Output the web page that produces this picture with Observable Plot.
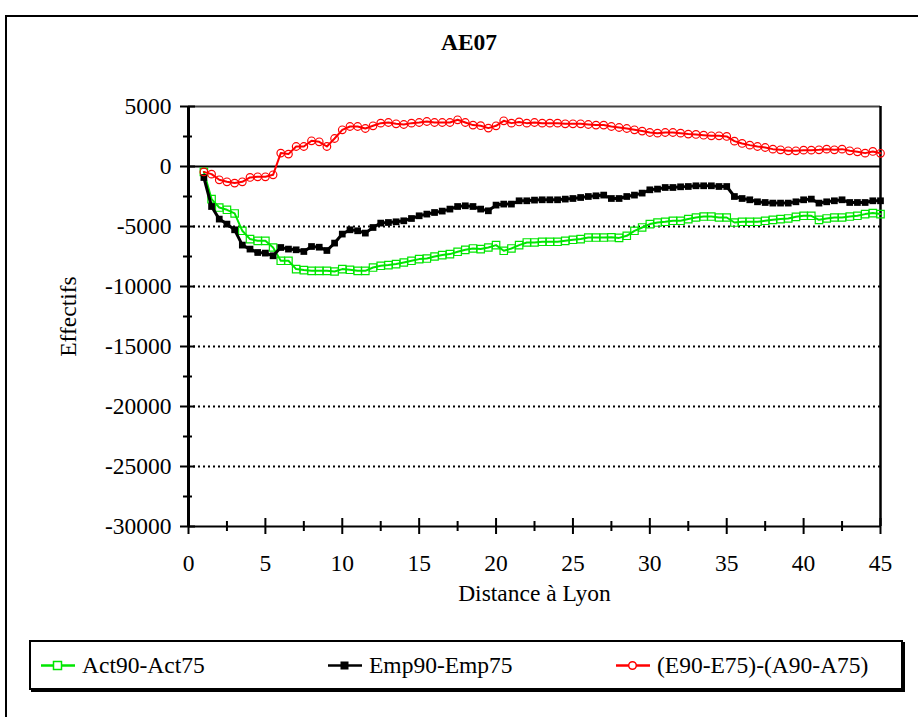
<!DOCTYPE html>
<html>
<head>
<meta charset="utf-8">
<script src="https://cdn.jsdelivr.net/npm/d3@7"></script>
<script src="https://cdn.jsdelivr.net/npm/@observablehq/plot@0.6"></script>
<style>
  body { margin: 0; background: white; }
  #page { position: relative; width: 918px; height: 717px; overflow: hidden; background: white; font-family: "Liberation Serif", "Times New Roman", serif; color: black; }
  #frame { position: absolute; left: 5px; top: 15px; width: 924px; height: 720px; border: 2px solid black; }
  #title { position: absolute; left: 6px; width: 926px; top: 30px; text-align: center; font-weight: bold; font-size: 23.5px; line-height: 24px; }
  #chart { position: absolute; left: 0; top: 0; }
  #legend { position: absolute; left: 29px; top: 640px; width: 870px; height: 46px; border: 2px solid black; box-shadow: 2px 2px 0 #000; background: white; }
  .item { position: absolute; top: 0; height: 46px; display: flex; align-items: center; font-size: 23.5px; }
  .item svg { margin-right: 7px; }
</style>
</head>
<body>
<div id="page">
  <div id="frame"></div>
  <div id="title">AE07</div>
  <div id="chart"></div>
  <div id="legend"></div>
</div>
<script>
// Distance à Lyon (km)
const distance = [1,1.5,2,2.5,3,3.5,4,4.5,5,5.5,6,6.5,7,7.5,8,8.5,9,9.5,10,10.5,
  11,11.5,12,12.5,13,13.5,14,14.5,15,15.5,16,16.5,17,17.5,18,18.5,19,19.5,20,20.5,
  21,21.5,22,22.5,23,23.5,24,24.5,25,25.5,26,26.5,27,27.5,28,28.5,29,29.5,30,30.5,
  31,31.5,32,32.5,33,33.5,34,34.5,35,35.5,36,36.5,37,37.5,38,38.5,39,39.5,40,40.5,
  41,41.5,42,42.5,43,43.5,44,44.5,45];

// Act90-Act75
const act = [-450,-2717,-3417,-3608,-3914,-5358,-6050,-6192,-6192,-6750,
  -7858,-7858,-8550,-8633,-8692,-8692,-8692,-8750,-8550,-8608,
  -8692,-8692,-8417,-8275,-8217,-8133,-8000,-7858,-7717,-7667,
  -7500,-7383,-7300,-7108,-6942,-6833,-6883,-6750,-6550,-7025,
  -6833,-6550,-6333,-6333,-6275,-6275,-6275,-6192,-6108,-6050,
  -5917,-5917,-5917,-5900,-5950,-5775,-5358,-5083,-4800,-4667,
  -4608,-4525,-4525,-4383,-4250,-4167,-4167,-4250,-4250,-4667,
  -4608,-4608,-4608,-4525,-4442,-4383,-4333,-4192,-4108,-4108,
  -4442,-4333,-4250,-4250,-4167,-4108,-3967,-3883,-3967];

// Emp90-Emp75
const emp = [-917,-3333,-4383,-4800,-5275,-6550,-6883,-7167,-7217,-7442,
  -6750,-6883,-6942,-7083,-6667,-6725,-7000,-6383,-5633,-5275,
  -5358,-5550,-5083,-4717,-4667,-4608,-4525,-4333,-4108,-3967,
  -3833,-3717,-3550,-3333,-3275,-3333,-3550,-3692,-3217,-3133,
  -3133,-2858,-2858,-2800,-2775,-2775,-2775,-2717,-2667,-2583,
  -2500,-2442,-2383,-2667,-2667,-2500,-2383,-2217,-1942,-1883,
  -1750,-1750,-1692,-1667,-1608,-1608,-1608,-1667,-1667,-2500,
  -2667,-2775,-2942,-3000,-3050,-3050,-3050,-2942,-2775,-2717,
  -3050,-2942,-2858,-2775,-3000,-3000,-3000,-2858,-2858];

// (E90-E75)-(A90-A75)
const diff = [-450,-636,-1108,-1275,-1383,-1275,-914,-858,-858,-692,
  1117,1033,1667,1667,2140,2058,1667,2333,3058,3333,
  3333,3167,3392,3614,3667,3558,3500,3614,3667,3750,
  3667,3667,3667,3892,3667,3450,3400,3200,3392,3808,
  3614,3714,3614,3667,3614,3614,3614,3558,3558,3558,
  3500,3450,3450,3333,3250,3167,3058,2950,2833,2780,
  2833,2833,2780,2700,2670,2610,2558,2558,2503,2114,
  1919,1780,1667,1583,1447,1392,1308,1308,1364,1364,
  1392,1447,1392,1447,1308,1225,1114,1253,1100];

const seriesNames = ["Act90-Act75", "Emp90-Emp75", "(E90-E75)-(A90-A75)"];
const seriesColors = ["#00e600", "#000000", "#ff0000"];

const yTicks = [5000, 0, -5000, -10000, -15000, -20000, -25000, -30000];
const yMinor = [2500, -2500, -7500, -12500, -17500, -22500, -27500];
const yGrid = [-5000, -10000, -15000, -20000, -25000];
const xTicks = [0, 5, 10, 15, 20, 25, 30, 35, 40, 45];
const xMinor = [2.5, 7.5, 12.5, 17.5, 22.5, 27.5, 32.5, 37.5, 42.5];

const rowsAct = distance.map((d, i) => ({x: d, y: act[i]}));
const rowsEmp = distance.map((d, i) => ({x: d, y: emp[i]}));
const rowsDiff = distance.map((d, i) => ({x: d, y: diff[i]}));

const blank = () => "";
const FS = 23.5;

const chart = Plot.plot({
  width: 918,
  height: 620,
  marginLeft: 188,
  marginRight: 38,
  marginTop: 106,
  marginBottom: 94,
  x: {domain: [0, 45]},
  y: {domain: [-30000, 5000]},
  style: {fontFamily: "'Liberation Serif', 'Times New Roman', serif", fontSize: FS + "px", color: "black", background: "transparent", overflow: "visible"},
  marks: [
    Plot.ruleY(yGrid, {stroke: "black", strokeWidth: 2, strokeDasharray: "2,3"}),
    Plot.ruleY([5000], {stroke: "#444", strokeWidth: 2}),
    Plot.ruleY([0], {stroke: "black", strokeWidth: 2}),
    Plot.ruleX([45], {stroke: "black", strokeWidth: 2.5}),
    // Act90-Act75
    Plot.line(rowsAct, {x: "x", y: "y", stroke: seriesColors[0], strokeWidth: 2}),
    Plot.dot(rowsAct, {x: "x", y: "y", symbol: "square", r: 4.2, stroke: seriesColors[0], strokeWidth: 1.2, fill: "none"}),
    // Emp90-Emp75
    Plot.line(rowsEmp, {x: "x", y: "y", stroke: seriesColors[1], strokeWidth: 3}),
    Plot.dot(rowsEmp, {x: "x", y: "y", symbol: "square", r: 3.8, fill: seriesColors[1], stroke: "none"}),
    // (E90-E75)-(A90-A75)
    Plot.line(rowsDiff, {x: "x", y: "y", stroke: seriesColors[2], strokeWidth: 2}),
    Plot.dot(rowsDiff, {x: "x", y: "y", r: 3.8, stroke: seriesColors[2], strokeWidth: 1.2, fill: "none"}),
    // axes lines
    Plot.ruleX([0], {stroke: "black", strokeWidth: 3}),
    Plot.ruleY([-30000], {stroke: "black", strokeWidth: 2}),
    // ticks crossing the axes
    Plot.axisY({ticks: yTicks, tickSize: 15, dx: 7, tickFormat: blank, strokeWidth: 2, label: null}),
    Plot.axisY({ticks: yMinor, tickSize: 9, dx: 4, tickFormat: blank, strokeWidth: 2, label: null}),
    Plot.axisX({ticks: xTicks, tickSize: 16, dy: -8, tickFormat: blank, strokeWidth: 2, label: null}),
    Plot.axisX({ticks: xMinor, tickSize: 10, dy: -5, tickFormat: blank, strokeWidth: 2, label: null}),
    // tick labels
    Plot.axisY({ticks: yTicks, tickSize: 0, tickPadding: 17, tickFormat: d => String(d), label: null, fontSize: FS}),
    Plot.axisX({ticks: xTicks, tickSize: 0, tickPadding: 28, tickFormat: d => String(d), label: null, fontSize: FS}),
    // axis titles
    Plot.text(["Effectifs"], {frameAnchor: "left", dx: -120, rotate: -90, textAnchor: "middle", lineAnchor: "middle", fontSize: FS}),
    Plot.text(["Distance à Lyon"], {frameAnchor: "bottom", dy: 67, textAnchor: "middle", lineAnchor: "middle", fontSize: FS})
  ]
});
document.getElementById("chart").appendChild(chart);

// Legend
const legend = document.getElementById("legend");
const legendPos = [10, 297, 585];
seriesNames.forEach((name, i) => {
  const item = document.createElement("div");
  item.className = "item";
  item.style.left = legendPos[i] + "px";
  const c = seriesColors[i];
  let marker;
  if (i === 0) marker = `<rect x="12.5" y="5.5" width="8" height="8" fill="white" stroke="${c}" stroke-width="1.5"/>`;
  else if (i === 1) marker = `<rect x="12.5" y="5.5" width="8" height="8" fill="${c}"/>`;
  else marker = `<circle cx="16.5" cy="9.5" r="3.8" fill="white" stroke="${c}" stroke-width="1.5"/>`;
  item.innerHTML = `<svg width="34" height="19"><line x1="0" x2="34" y1="9.5" y2="9.5" stroke="${c}" stroke-width="2.5"/>${marker}</svg><span>${name}</span>`;
  legend.appendChild(item);
});
</script>
</body>
</html>
